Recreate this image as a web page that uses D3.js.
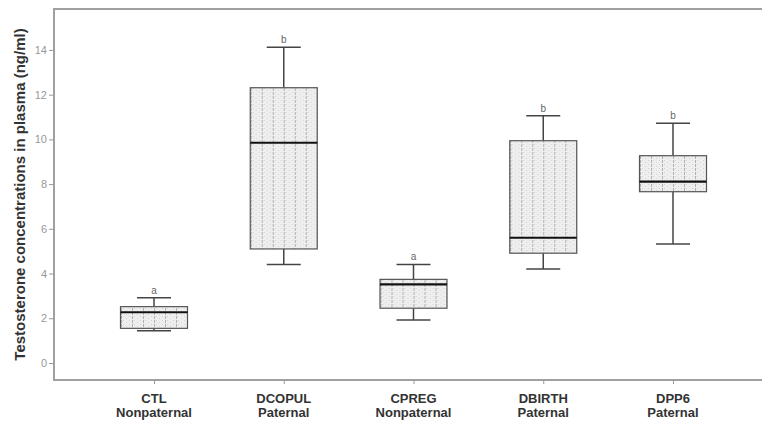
<!DOCTYPE html>
<html>
<head>
<meta charset="utf-8">
<style>
  body { margin: 0; background: #fff; }
  svg { display: block; font-family: "Liberation Sans", Arial, sans-serif; }
</style>
</head>
<body>
<svg width="762" height="421"></svg>
<script src="https://d3js.org/d3.v7.min.js"></script>
<script>
  // data
  var groups     = ["CTL", "DCOPUL", "CPREG", "DBIRTH", "DPP6"];
  var groupKinds = ["Nonpaternal", "Paternal", "Nonpaternal", "Paternal", "Paternal"];
  var whiskLo    = [1.44, 4.41, 1.92, 4.20, 5.32];
  var q1         = [1.55, 5.10, 2.45, 4.91, 7.66];
  var median     = [2.27, 9.85, 3.52, 5.60, 8.11];
  var q3         = [2.52, 12.31, 3.74, 9.94, 9.27];
  var whiskHi    = [2.92, 14.12, 4.41, 11.06, 10.72];
  var letters    = ["a", "b", "a", "b", "b"];
  var yTicks     = [0, 2, 4, 6, 8, 10, 12, 14];

  var svg = d3.select("svg"),
      frame = {left: 54, top: 9, right: 762, bottom: 380};

  var x = d3.scalePoint().domain(groups).range([154, 673]);
  var y = d3.scaleLinear().domain([-0.76, 15.83]).range([frame.bottom, frame.top]);

  var boxW = 67, capW = 34;

  // hatch fill: fine dots plus dashed vertical lines
  var defs = svg.append("defs");
  var pat = defs.append("pattern")
      .attr("id", "hatch")
      .attr("patternUnits", "userSpaceOnUse")
      .attr("width", 11).attr("height", 4);
  pat.append("rect").attr("width", 11).attr("height", 4).attr("fill", "#eeeeee");
  pat.append("rect").attr("x", 2).attr("y", 0).attr("width", 1).attr("height", 1).attr("fill", "#d4d4d4");
  pat.append("rect").attr("x", 5).attr("y", 2).attr("width", 1).attr("height", 1).attr("fill", "#d4d4d4");
  pat.append("rect").attr("x", 8).attr("y", 0).attr("width", 1).attr("height", 1).attr("fill", "#d4d4d4");
  pat.append("rect").attr("x", 0).attr("y", 0).attr("width", 1).attr("height", 3).attr("fill", "#b0b0b0");

  // frame
  svg.append("path")
      .attr("d", "M" + frame.right + "," + frame.top + "H" + frame.left + "V" + frame.bottom + "H" + frame.right)
      .attr("fill", "none")
      .attr("stroke", "#a0a0a0")
      .attr("stroke-width", 2);

  // y axis
  var yAxis = svg.append("g")
      .attr("transform", "translate(" + frame.left + ",0)")
      .call(d3.axisLeft(y).tickValues(yTicks).tickSize(5).tickPadding(2));
  yAxis.select(".domain").remove();
  yAxis.selectAll(".tick line").attr("stroke", "#999");
  yAxis.selectAll(".tick text")
      .attr("fill", "#999")
      .style("font-size", "11px")
      .style("font-family", "Liberation Sans, Arial, sans-serif");

  svg.append("text")
      .attr("transform", "translate(25," + ((frame.top + frame.bottom) / 2) + ") rotate(-90)")
      .attr("text-anchor", "middle")
      .attr("font-size", "15px")
      .attr("font-weight", "bold")
      .attr("fill", "#333")
      .text("Testosterone concentrations in plasma (ng/ml)");

  // x axis ticks
  var xAxis = svg.append("g")
      .attr("transform", "translate(0," + frame.bottom + ")")
      .call(d3.axisBottom(x).tickSize(4).tickFormat(""));
  xAxis.select(".domain").remove();
  xAxis.selectAll(".tick line").attr("stroke", "#999");

  var labels = svg.append("g").selectAll("text")
      .data(groups)
      .enter().append("text")
      .attr("y", 403)
      .attr("text-anchor", "middle")
      .attr("font-size", "13px")
      .attr("font-weight", "bold")
      .attr("fill", "#333");
  labels.append("tspan").attr("x", function(d) { return x(d); }).text(function(d) { return d; });
  labels.append("tspan").attr("x", function(d) { return x(d); }).attr("dy", 14)
      .text(function(d, i) { return groupKinds[i]; });

  // boxes
  var box = svg.append("g").selectAll("g")
      .data(groups)
      .enter().append("g")
      .attr("transform", function(d) { return "translate(" + x(d) + ",0)"; });

  box.append("line")
      .attr("y1", function(d, i) { return y(whiskHi[i]); })
      .attr("y2", function(d, i) { return y(q3[i]); })
      .attr("stroke", "#444").attr("stroke-width", 1.5);
  box.append("line")
      .attr("y1", function(d, i) { return y(q1[i]); })
      .attr("y2", function(d, i) { return y(whiskLo[i]); })
      .attr("stroke", "#444").attr("stroke-width", 1.5);
  box.append("line")
      .attr("x1", -capW / 2).attr("x2", capW / 2)
      .attr("y1", function(d, i) { return y(whiskHi[i]); })
      .attr("y2", function(d, i) { return y(whiskHi[i]); })
      .attr("stroke", "#444").attr("stroke-width", 1.5);
  box.append("line")
      .attr("x1", -capW / 2).attr("x2", capW / 2)
      .attr("y1", function(d, i) { return y(whiskLo[i]); })
      .attr("y2", function(d, i) { return y(whiskLo[i]); })
      .attr("stroke", "#444").attr("stroke-width", 1.5);

  box.append("rect")
      .attr("x", -boxW / 2)
      .attr("width", boxW)
      .attr("y", function(d, i) { return y(q3[i]); })
      .attr("height", function(d, i) { return y(q1[i]) - y(q3[i]); })
      .attr("fill", "url(#hatch)")
      .attr("stroke", "#555")
      .attr("stroke-width", 1.2);

  box.append("line")
      .attr("x1", -boxW / 2).attr("x2", boxW / 2)
      .attr("y1", function(d, i) { return y(median[i]); })
      .attr("y2", function(d, i) { return y(median[i]); })
      .attr("stroke", "#111").attr("stroke-width", 2.2);

  box.append("text")
      .attr("y", function(d, i) { return y(whiskHi[i]) - 4; })
      .attr("text-anchor", "middle")
      .attr("font-size", "10px")
      .attr("fill", "#666")
      .text(function(d, i) { return letters[i]; });
</script>
</body>
</html>
